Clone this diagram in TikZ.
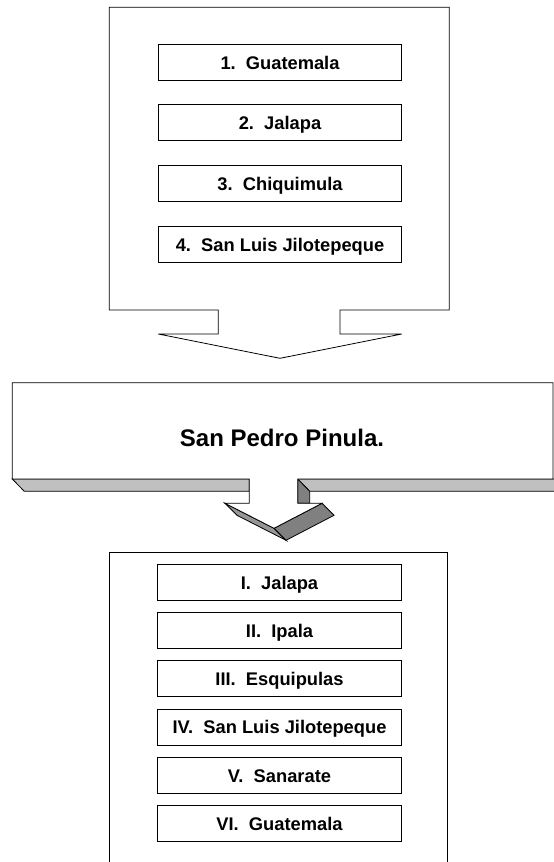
\documentclass[tikz,border=0pt]{standalone}
\usepackage{fontspec}
\setmainfont{Liberation Sans}
\definecolor{striplight}{HTML}{C0C0C0}
\definecolor{sidelight}{HTML}{969696}
\definecolor{sidedark}{HTML}{808080}
\tikzset{>=stealth}
\tikzset{frameline/.style={draw, line width=0.8pt, line join=miter},
	townbox/.style={frameline, minimum width=243.4pt, minimum height=36pt, inner sep=0pt, text height=14pt, text depth=0pt, font=\fontsize{18.3}{20}\selectfont\bfseries}}

\begin{document}
\begin{tikzpicture}[x=1pt, y=-1pt]
	\useasboundingbox (0,0) rectangle (554,862);
	\draw [frameline, fill=white] (109.3,7.3) -- (449.3,7.3) -- (449.3,310) -- (340,310) -- (340,334) -- (401.7,334) -- (280,358.3) -- (158.3,334) -- (218.3,334) -- (218.3,310) -- (109.3,310) -- cycle;
	\foreach \t [count=\i] in {Guatemala, Jalapa, Chiquimula, San Luis Jilotepeque}
	\node (origin\i) at (280, 62+60.7*\i-60.7) [townbox] {\i.~~\t};
	\draw [frameline] (109.3,866) -- (109.3,552) -- (447.7,552) -- (447.7,866);
	\foreach \n/\t [count=\i] in {I/Jalapa, II/Ipala, III/Esquipulas, IV/San Luis Jilotepeque, V/Sanarate, VI/Guatemala}
	\node (route\i) at (279.5, 582+48.33*\i-48.33) [townbox] {\n.~~\t};
	\draw [frameline, fill=striplight] (12.3,479) -- (249.3,479) -- (249.3,491.3) -- (24.3,491.3) -- cycle;
	\draw [frameline, fill=striplight] (297.7,479) -- (558,479) -- (558,491.3) -- (309.7,491.3) -- cycle;
	\draw [frameline, fill=sidedark] (297.7,479) -- (309.7,491.3) -- (309.7,503.3) -- (297.7,503.3) -- cycle;
	\draw [frameline, fill=sidelight] (225,503.3) -- (237,515.3) -- (286,540.3) -- (274,528.3) -- cycle;
	\draw [frameline, fill=sidedark] (274,528.3) -- (286,540.3) -- (334,515.3) -- (322,503.3) -- cycle;
	\draw [frameline, fill=white] (12.3,382.7) -- (553,382.7) -- (553,479) -- (297.7,479) -- (297.7,503.3) -- (322,503.3) -- (274,528.3) -- (225,503.3) -- (249.3,503.3) -- (249.3,479) -- (12.3,479) -- cycle;
	\node (hub) at (282,446.6) [anchor=base, font=\fontsize{24}{28}\selectfont\bfseries] {San Pedro Pinula.};
\end{tikzpicture}
\end{document}
